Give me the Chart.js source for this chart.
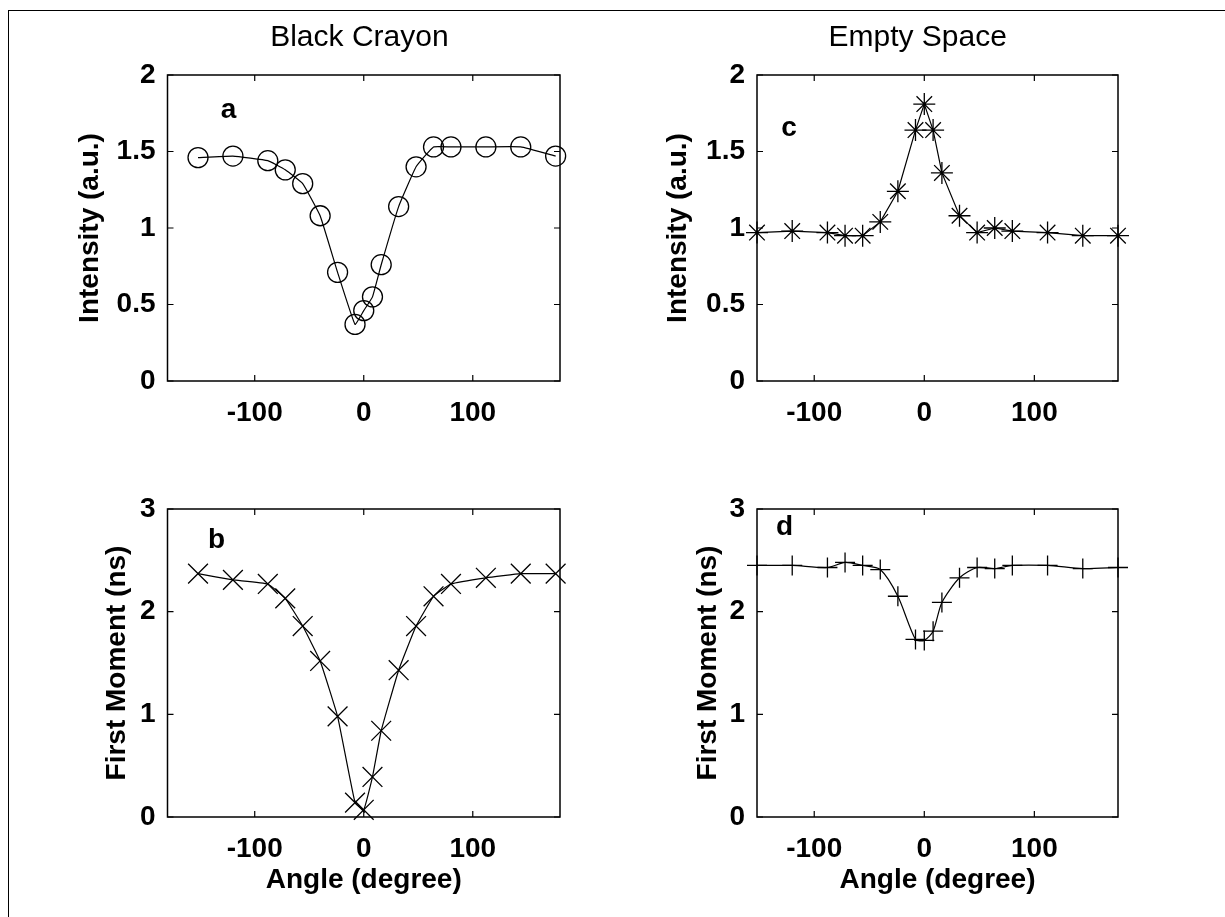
<!DOCTYPE html>
<html lang="en">
<head>
  <meta charset="utf-8">
  <title>Black Crayon / Empty Space</title>
  <style>
    html, body { margin: 0; padding: 0; background: #fff; }
    #figure { position: relative; width: 1225px; height: 917px; overflow: hidden; background: #fff; }
    .panel { position: absolute; width: 600px; }
    .panel canvas { display: block; }
    #border { position: absolute; left: 8px; top: 10px; right: -10px; bottom: -10px;
              border-left: 1.5px solid #000; border-top: 1.5px solid #000; pointer-events: none; }
  </style>
</head>
<body>
<div id="figure">
  <div class="panel" style="left:0;top:0;height:440px"><canvas id="chartA"></canvas></div>
  <div class="panel" style="left:0;top:440px;height:477px"><canvas id="chartB"></canvas></div>
  <div class="panel" style="left:558px;top:0;height:440px"><canvas id="chartC"></canvas></div>
  <div class="panel" style="left:558px;top:440px;height:477px"><canvas id="chartD"></canvas></div>
  <div id="border"></div>
</div>
<script src="https://cdn.jsdelivr.net/npm/chart.js"></script>
<script>
  // angles (degree) shared by all four measurements
  const angles = [-152, -120, -88, -72, -56, -40, -24, -8, 0, 8, 16, 32, 48, 64, 80, 112, 144, 176];

  const intensityCrayon = [1.46, 1.47, 1.44, 1.38, 1.29, 1.08, 0.71, 0.37, 0.46, 0.55, 0.76, 1.14, 1.40, 1.53, 1.53, 1.53, 1.53, 1.47];
  const momentCrayon    = [2.37, 2.31, 2.27, 2.13, 1.86, 1.52, 0.98, 0.14, 0.07, 0.39, 0.84, 1.43, 1.86, 2.15, 2.27, 2.33, 2.37, 2.37];
  const intensityEmpty  = [0.97, 0.98, 0.97, 0.95, 0.95, 1.04, 1.24, 1.64, 1.81, 1.64, 1.36, 1.08, 0.97, 1.00, 0.98, 0.97, 0.95, 0.95];
  const momentEmpty     = [2.45, 2.45, 2.43, 2.48, 2.45, 2.41, 2.15, 1.73, 1.72, 1.81, 2.09, 2.33, 2.43, 2.42, 2.45, 2.45, 2.42, 2.43];

  const angleTicks = [-100, 0, 100];
  const intensityTicks = [0, 0.5, 1, 1.5, 2];
  const momentTicks = [0, 1, 2, 3];

  const FONT = "'Liberation Sans', Arial, sans-serif";
  const TICK = 6;

  // box around the axes with inward tick marks on all sides, plus panel letter and column heading
  const frameTicks = {
    id: 'frameTicks',
    afterDraw(chart) {
      const {ctx, chartArea: a, scales: {x, y}} = chart;
      const opt = chart.options.plugins.frameTicks;
      ctx.save();
      ctx.strokeStyle = '#000';
      ctx.lineWidth = 1.2;
      ctx.beginPath();
      x.ticks.forEach(t => {
        const px = x.getPixelForValue(t.value);
        ctx.moveTo(px, a.bottom); ctx.lineTo(px, a.bottom - TICK);
        ctx.moveTo(px, a.top); ctx.lineTo(px, a.top + TICK);
      });
      y.ticks.forEach(t => {
        const py = y.getPixelForValue(t.value);
        ctx.moveTo(a.left, py); ctx.lineTo(a.left + TICK, py);
        ctx.moveTo(a.right, py); ctx.lineTo(a.right - TICK, py);
      });
      ctx.stroke();
      ctx.lineWidth = 1.5;
      ctx.strokeRect(a.left, a.top, a.right - a.left, a.bottom - a.top);

      ctx.fillStyle = '#000';
      ctx.textAlign = 'center';
      ctx.textBaseline = 'middle';
      ctx.font = 'bold 28px ' + FONT;
      ctx.fillText(opt.letter, x.getPixelForValue(opt.letterAt[0]), y.getPixelForValue(opt.letterAt[1]));
      if (opt.heading) {
        ctx.font = '30px ' + FONT;
        ctx.fillText(opt.heading, x.getPixelForValue(opt.headingAt), 38);
      }
      ctx.restore();
    }
  };

  function makePanel(id, values, cfg) {
    const bottomRow = cfg.bottomRow;
    return new Chart(document.getElementById(id), {
      type: 'line',
      data: {
        datasets: [{
          data: angles.map((a, i) => ({x: a, y: values[i]})),
          borderColor: '#000',
          borderWidth: 1.2,
          tension: cfg.tension,
          pointStyle: cfg.marker,
          pointRadius: cfg.markerSize,
          pointBorderWidth: 1.3,
          pointBorderColor: '#000',
          pointBackgroundColor: 'rgba(0,0,0,0)',
          clip: false
        }]
      },
      options: {
        responsive: true,
        maintainAspectRatio: false,
        animation: false,
        events: [],
        layout: { padding: { top: bottomRow ? 69 : 75, right: 40, left: 0, bottom: 0 } },
        plugins: {
          legend: { display: false },
          tooltip: { enabled: false },
          frameTicks: { letter: cfg.letter, letterAt: cfg.letterAt, heading: cfg.heading, headingAt: cfg.headingAt }
        },
        scales: {
          x: {
            type: 'linear',
            min: cfg.xMin,
            max: cfg.xMax,
            afterBuildTicks: s => { s.ticks = angleTicks.map(v => ({value: v})); },
            afterFit: s => { s.height = bottomRow ? 100 : 59; },
            grid: { display: false, drawTicks: false },
            border: { display: false },
            ticks: { color: '#000', padding: 15, maxRotation: 0, font: { family: FONT, size: 28, weight: 'bold' } },
            title: {
              display: bottomRow,
              text: 'Angle (degree)',
              color: '#000',
              padding: { top: 20, bottom: 20 },
              font: { family: FONT, size: 28, weight: 'bold' }
            }
          },
          y: {
            type: 'linear',
            min: cfg.yMin,
            max: cfg.yMax,
            afterBuildTicks: s => { s.ticks = cfg.yTicks.map(v => ({value: v})); },
            afterFit: s => { s.width = cfg.axisLeft; },
            grid: { display: false, drawTicks: false },
            border: { display: false },
            ticks: {
              color: '#000',
              padding: 12,
              font: { family: FONT, size: 28, weight: 'bold' },
              callback: v => String(v)
            },
            title: {
              display: true,
              text: cfg.yTitle,
              color: '#000',
              padding: { top: cfg.yTitlePad, bottom: 0 },
              font: { family: FONT, size: 28, weight: 'bold' }
            }
          }
        }
      },
      plugins: [frameTicks]
    });
  }

  makePanel('chartA', intensityCrayon, {
    letter: 'a', letterAt: [-124, 1.77], heading: 'Black Crayon', headingAt: -4,
    marker: 'circle', markerSize: 10, tension: 0.1,
    xMin: -180, xMax: 180, axisLeft: 167.5,
    yMin: 0, yMax: 2, yTicks: intensityTicks, yTitle: 'Intensity (a.u.)', yTitlePad: 73
  });
  makePanel('chartB', momentCrayon, {
    letter: 'b', letterAt: [-135, 2.70], bottomRow: true,
    marker: 'crossRot', markerSize: 14, tension: 0.1,
    xMin: -180, xMax: 180, axisLeft: 167.5,
    yMin: 0, yMax: 3, yTicks: momentTicks, yTitle: 'First Moment (ns)', yTitlePad: 100
  });
  makePanel('chartC', intensityEmpty, {
    letter: 'c', letterAt: [-123, 1.65], heading: 'Empty Space', headingAt: -6,
    marker: 'star', markerSize: 11, tension: 0,
    xMin: -152, xMax: 176, axisLeft: 199,
    yMin: 0, yMax: 2, yTicks: intensityTicks, yTitle: 'Intensity (a.u.)', yTitlePad: 103
  });
  makePanel('chartD', momentEmpty, {
    letter: 'd', letterAt: [-127, 2.82], bottomRow: true,
    marker: 'cross', markerSize: 10, tension: 0.25,
    xMin: -152, xMax: 176, axisLeft: 199,
    yMin: 0, yMax: 3, yTicks: momentTicks, yTitle: 'First Moment (ns)', yTitlePad: 133
  });
</script>
</body>
</html>
